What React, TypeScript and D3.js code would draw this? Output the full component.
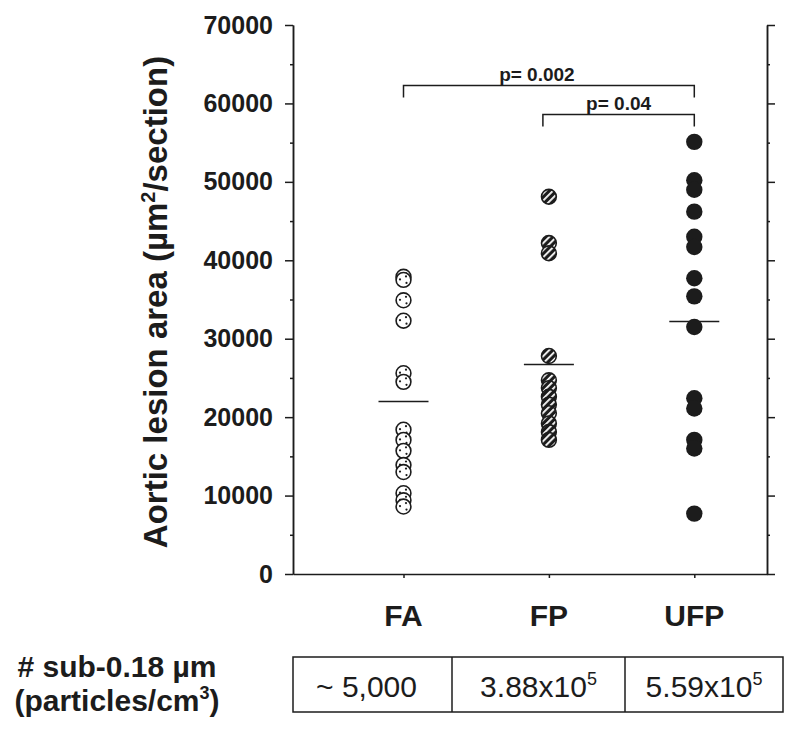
import React, { useEffect, useRef } from "react";
import * as d3 from "d3";

const categories = ["FA", "FP", "UFP"];
const faValues = [37900, 37500, 34900, 32300, 25600, 24500, 18400, 17100, 15700, 13900, 13000, 10300, 9400, 8600];
const fpValues = [48100, 42200, 40900, 27800, 24700, 23700, 22600, 21600, 20500, 19200, 18100, 17100];
const ufpValues = [55100, 50200, 49000, 46200, 43000, 41700, 37700, 35400, 31500, 22400, 21100, 17100, 16000, 7700];
const medianValues = [22000, 26700, 32200];
const yTickValues = [0, 10000, 20000, 30000, 40000, 50000, 60000, 70000];
const yMinorTicks = [5000, 15000, 25000, 35000, 45000, 55000, 65000];
const comparisons = [
  { from: "FA", to: "UFP", level: 62300, label: "p= 0.002" },
  { from: "FP", to: "UFP", level: 58600, label: "p= 0.04" },
];
const tableMain = ["~ 5,000", "3.88x10", "5.59x10"];
const tableSup = ["", "5", "5"];

const font = "'Liberation Sans', Arial, Helvetica, sans-serif";
const ink = "#1c1c1c";

const App = () => {
  const svgRef = useRef<SVGSVGElement>(null);

  useEffect(() => {
    const width = 800;
    const height = 737;
    const svg = d3.select(svgRef.current).attr("width", width).attr("height", height);
    svg.selectAll("*").remove();

    const x = d3.scaleLinear().domain([-0.76, 2.5]).range([293, 767]);
    const xCat = (c: string) => x(categories.indexOf(c));
    const y = d3.scaleLinear().domain([0, 70000]).range([574, 25]);

    const defs = svg.append("defs");
    const hatch = defs
      .append("pattern")
      .attr("id", "hatch")
      .attr("patternUnits", "userSpaceOnUse")
      .attr("width", 5)
      .attr("height", 5)
      .attr("patternTransform", "rotate(45)");
    hatch.append("rect").attr("width", 5).attr("height", 5).attr("fill", ink);
    hatch.append("rect").attr("width", 1.8).attr("height", 5).attr("fill", "#fff");

    const styleAxis = (g: any) => {
      g.selectAll("path").attr("stroke", ink).attr("stroke-width", 1.5);
      g.selectAll("line").attr("stroke", ink).attr("stroke-width", 1.5);
    };

    // left axis
    svg
      .append("g")
      .attr("transform", "translate(293,0)")
      .call(d3.axisLeft(y).tickValues(yMinorTicks).tickSize(3).tickSizeOuter(0).tickFormat(() => ""))
      .call(styleAxis);
    const left = svg
      .append("g")
      .attr("transform", "translate(293,0)")
      .call(
        d3.axisLeft(y).tickValues(yTickValues).tickSize(8).tickSizeOuter(0).tickPadding(12).tickFormat(d3.format("d"))
      )
      .call(styleAxis);
    left
      .selectAll("text")
      .attr("font-family", font)
      .attr("font-size", 25)
      .attr("font-weight", "bold")
      .attr("fill", ink);

    // right axis
    svg
      .append("g")
      .attr("transform", "translate(767,0)")
      .call(d3.axisRight(y).tickValues(yMinorTicks).tickSize(3).tickSizeOuter(0).tickFormat(() => ""))
      .call(styleAxis);
    svg
      .append("g")
      .attr("transform", "translate(767,0)")
      .call(d3.axisRight(y).tickValues(yTickValues).tickSize(8).tickSizeOuter(0).tickFormat(() => ""))
      .call(styleAxis);

    // bottom axis
    svg
      .append("g")
      .attr("transform", "translate(0,574)")
      .call(d3.axisBottom(x).tickValues([0, 1, 2]).tickSize(4).tickSizeOuter(0).tickFormat(() => ""))
      .call(styleAxis);

    svg
      .append("g")
      .selectAll("text")
      .data(categories)
      .join("text")
      .attr("x", (d) => xCat(d))
      .attr("y", 626)
      .attr("text-anchor", "middle")
      .attr("font-family", font)
      .attr("font-size", 30)
      .attr("font-weight", "bold")
      .attr("fill", ink)
      .text((d) => d);

    // y title
    const title = svg
      .append("text")
      .attr("transform", "translate(167,302) rotate(-90)")
      .attr("text-anchor", "middle")
      .attr("font-family", font)
      .attr("font-size", 33)
      .attr("font-weight", "bold")
      .attr("fill", ink);
    title.append("tspan").text("Aortic lesion area (µm");
    title.append("tspan").attr("font-size", 20).attr("dy", -12).text("2");
    title.append("tspan").attr("dy", 12).text("/section)");

    // medians
    svg
      .append("g")
      .selectAll("line")
      .data(medianValues)
      .join("line")
      .attr("x1", (d, i) => xCat(categories[i]) - 25)
      .attr("x2", (d, i) => xCat(categories[i]) + 25)
      .attr("y1", (d) => y(d))
      .attr("y2", (d) => y(d))
      .attr("stroke", ink)
      .attr("stroke-width", 1.5);

    const r = 7.4;

    // FA: open circles with dots
    const fa = svg
      .append("g")
      .selectAll("g")
      .data(faValues)
      .join("g")
      .attr("transform", (d) => `translate(${xCat("FA")},${y(d)})`);
    fa.append("circle").attr("r", r).attr("fill", "#fff").attr("stroke", ink).attr("stroke-width", 1.6);
    [
      [2.5, -3.5],
      [-3.5, -0.5],
      [3, 3],
    ].forEach(([dx, dy]) => {
      fa.append("circle").attr("cx", dx).attr("cy", dy).attr("r", 1.1).attr("fill", ink);
    });

    // FP: hatched circles
    svg
      .append("g")
      .selectAll("circle")
      .data(fpValues)
      .join("circle")
      .attr("cx", xCat("FP"))
      .attr("cy", (d) => y(d))
      .attr("r", r)
      .attr("fill", "url(#hatch)")
      .attr("stroke", ink)
      .attr("stroke-width", 1.6);

    // UFP: filled circles
    svg
      .append("g")
      .selectAll("circle")
      .data(ufpValues)
      .join("circle")
      .attr("cx", xCat("UFP"))
      .attr("cy", (d) => y(d))
      .attr("r", r + 0.8)
      .attr("fill", ink);

    // significance brackets
    comparisons.forEach((c, i) => {
      const x1 = xCat(c.from) - (i === 1 ? 6 : 0);
      const x2 = xCat(c.to);
      const yl = y(c.level);
      svg
        .append("path")
        .attr("d", `M${x1},${yl + 12}V${yl}H${x2}V${yl + 12}`)
        .attr("fill", "none")
        .attr("stroke", ink)
        .attr("stroke-width", 1.5);
      svg
        .append("text")
        .attr("x", (x1 + x2) / 2 - (i === 0 ? 12 : 0))
        .attr("y", yl - 4)
        .attr("text-anchor", "middle")
        .attr("font-family", font)
        .attr("font-size", 19)
        .attr("font-weight", "bold")
        .attr("fill", ink)
        .text(c.label);
    });

    // particle count table
    const cols = [293, 452, 625, 783];
    const tTop = 657;
    const tBottom = 712;
    svg
      .append("rect")
      .attr("x", cols[0])
      .attr("y", tTop)
      .attr("width", cols[3] - cols[0])
      .attr("height", tBottom - tTop)
      .attr("fill", "none")
      .attr("stroke", ink)
      .attr("stroke-width", 1.5);
    [cols[1], cols[2]].forEach((cx) => {
      svg
        .append("line")
        .attr("x1", cx)
        .attr("x2", cx)
        .attr("y1", tTop)
        .attr("y2", tBottom)
        .attr("stroke", ink)
        .attr("stroke-width", 1.5);
    });
    tableMain.forEach((t, i) => {
      const txt = svg
        .append("text")
        .attr("x", (cols[i] + cols[i + 1]) / 2 - (i === 0 ? 6 : 0))
        .attr("y", 697)
        .attr("text-anchor", "middle")
        .attr("font-family", font)
        .attr("font-size", 30)
        .attr("fill", ink);
      txt.append("tspan").text(t);
      if (tableSup[i]) txt.append("tspan").attr("font-size", 18).attr("dy", -12).text(tableSup[i]);
    });

    const lab = svg
      .append("text")
      .attr("text-anchor", "middle")
      .attr("font-family", font)
      .attr("font-size", 30)
      .attr("font-weight", "bold")
      .attr("fill", ink);
    lab.append("tspan").attr("x", 117).attr("y", 677).text("# sub-0.18 µm");
    const l2 = lab.append("tspan").attr("x", 117).attr("y", 711);
    l2.append("tspan").text("(particles/cm");
    l2.append("tspan").attr("font-size", 18).attr("dy", -12).text("3");
    l2.append("tspan").attr("dy", 12).text(")");
  }, []);

  return (
    <div style={{ position: "absolute", left: 0, top: 0, background: "#fff" }}>
      <svg ref={svgRef} style={{ display: "block" }}></svg>
    </div>
  );
};

export default App;
